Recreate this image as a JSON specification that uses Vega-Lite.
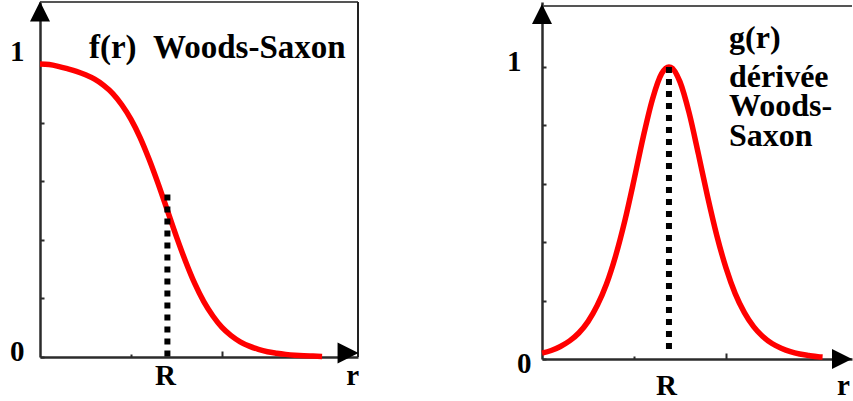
{
  "$schema": "https://vega.github.io/schema/vega-lite/v6.json",
  "background": "white",
  "padding": {"left": 9, "top": 1, "right": 0, "bottom": 0},
  "autosize": {"type": "pad"},
  "bounds": "flush",
  "spacing": 184,
  "config": {
    "view": {"stroke": null},
    "axis": {
      "grid": false,
      "domainColor": "#2b2b2b",
      "domainWidth": 2.5,
      "tickColor": "#2b2b2b",
      "tickWidth": 2,
      "labelFont": "Liberation Serif",
      "labelFontWeight": "bold",
      "labelFontSize": 29,
      "labelColor": "#000000",
      "labelOverlap": false,
      "labelFlush": false,
      "labelBound": false
    },
    "text": {"font": "Liberation Serif", "fontWeight": "bold", "fontSize": 32, "color": "#000000", "align": "left", "baseline": "alphabetic"}
  },
  "datasets": {
    "one": [{}],
    "ws": [
      {"r": 0, "f": 1.0}, {"r": 0.1, "f": 0.998}, {"r": 0.2, "f": 0.992}, {"r": 0.3, "f": 0.984},
      {"r": 0.4, "f": 0.975}, {"r": 0.5, "f": 0.963}, {"r": 0.6, "f": 0.948}, {"r": 0.7, "f": 0.927},
      {"r": 0.8, "f": 0.899}, {"r": 0.9, "f": 0.860}, {"r": 1.0, "f": 0.811}, {"r": 1.1, "f": 0.749},
      {"r": 1.2, "f": 0.674}, {"r": 1.3, "f": 0.590}, {"r": 1.4, "f": 0.500}, {"r": 1.5, "f": 0.410},
      {"r": 1.6, "f": 0.326}, {"r": 1.7, "f": 0.251}, {"r": 1.8, "f": 0.189}, {"r": 1.9, "f": 0.140},
      {"r": 2.0, "f": 0.101}, {"r": 2.1, "f": 0.073}, {"r": 2.2, "f": 0.052}, {"r": 2.3, "f": 0.037},
      {"r": 2.4, "f": 0.026}, {"r": 2.5, "f": 0.018}, {"r": 2.6, "f": 0.013}, {"r": 2.7, "f": 0.009},
      {"r": 2.8, "f": 0.006}, {"r": 2.9, "f": 0.004}, {"r": 3.0, "f": 0.003}, {"r": 3.1, "f": 0.002}
    ],
    "wsd": [
      {"r": 0, "g": 0.020}, {"r": 0.1, "g": 0.029}, {"r": 0.2, "g": 0.043}, {"r": 0.3, "g": 0.062},
      {"r": 0.4, "g": 0.089}, {"r": 0.5, "g": 0.128}, {"r": 0.6, "g": 0.183}, {"r": 0.7, "g": 0.256},
      {"r": 0.8, "g": 0.353}, {"r": 0.9, "g": 0.473}, {"r": 1.0, "g": 0.613}, {"r": 1.1, "g": 0.760},
      {"r": 1.2, "g": 0.889}, {"r": 1.3, "g": 0.977}, {"r": 1.38, "g": 1.0}, {"r": 1.4, "g": 0.999},
      {"r": 1.5, "g": 0.949}, {"r": 1.6, "g": 0.842}, {"r": 1.7, "g": 0.702}, {"r": 1.8, "g": 0.556},
      {"r": 1.9, "g": 0.423}, {"r": 2.0, "g": 0.312}, {"r": 2.1, "g": 0.224}, {"r": 2.2, "g": 0.159},
      {"r": 2.3, "g": 0.111}, {"r": 2.4, "g": 0.077}, {"r": 2.5, "g": 0.053}, {"r": 2.6, "g": 0.037},
      {"r": 2.7, "g": 0.025}, {"r": 2.8, "g": 0.017}, {"r": 2.9, "g": 0.012}, {"r": 3.0, "g": 0.008},
      {"r": 3.05, "g": 0.007}
    ]
  },
  "hconcat": [
    {
      "width": 318,
      "height": 355,
      "layer": [
        {
          "data": {"name": "ws"},
          "mark": {"type": "line", "color": "#ff0000", "strokeWidth": 5.5, "interpolate": "monotone"},
          "encoding": {
            "x": {
              "field": "r", "type": "quantitative",
              "scale": {"domain": [0, 3.4945], "nice": false, "zero": false},
              "axis": {
                "title": null,
                "values": [1, 1.374, 2, 3.43],
                "tickSize": {"condition": [{"test": "datum.value == 1", "value": -3}, {"test": "datum.value == 2", "value": -6}], "value": 0},
                "labelExpr": "datum.value == 1.374 ? 'R' : datum.value == 3.43 ? 'r' : ''",
                "labelBaseline": "alphabetic",
                "labelAlign": "center",
                "labelPadding": 27
              }
            },
            "y": {
              "field": "f", "type": "quantitative",
              "scale": {"domain": [0, 1.2116], "nice": false},
              "axis": {
                "title": null,
                "values": [0, 0.1, 0.2, 0.3, 0.4, 0.5, 0.6, 0.7, 0.8, 0.9, 1, 1.1],
                "tickSize": -4,
                "labelExpr": "datum.value == 0 ? '0' : datum.value == 1 ? '1' : ''",
                "labelBaseline": "middle",
                "labelAlign": "right",
                "labelPadding": 20,
                "labelOffset": {"condition": {"test": "datum.value == 1", "value": -12}, "value": -6}
              }
            }
          }
        },
        {"data": {"name": "one"}, "mark": {"type": "rule", "color": "#555555", "strokeWidth": 2}, "encoding": {"y": {"datum": 1.2116}}},
        {"data": {"name": "one"}, "mark": {"type": "rule", "color": "#222222", "strokeWidth": 2}, "encoding": {"x": {"datum": 3.4945}}},
        {
          "data": {"name": "one"},
          "mark": {"type": "rule", "color": "#000000", "strokeWidth": 6, "strokeDash": [6, 6], "strokeCap": "butt"},
          "encoding": {"x": {"datum": 1.4}, "y": {"datum": 0.555}, "y2": {"datum": 0}}
        },
        {
          "data": {"name": "one"},
          "mark": {"type": "point", "shape": "M0,-1L-1,1L1,1Z", "filled": true, "size": 400, "color": "#000000", "opacity": 1},
          "encoding": {"x": {"datum": 0}, "y": {"datum": 1.179}}
        },
        {
          "data": {"name": "one"},
          "mark": {"type": "point", "shape": "M1,0L-1,-1L-1,1Z", "filled": true, "size": 441, "color": "#000000", "opacity": 1},
          "encoding": {"x": {"datum": 3.385}, "y": {"datum": 0.0137}}
        },
        {
          "data": {"name": "one"},
          "mark": {"type": "text", "text": "f(r)\u00a0\u00a0Woods-Saxon", "fontSize": 33},
          "encoding": {"x": {"datum": 0.538}, "y": {"datum": 1.0205}}
        }
      ]
    },
    {
      "width": 310,
      "height": 357,
      "layer": [
        {
          "data": {"name": "wsd"},
          "mark": {"type": "line", "color": "#ff0000", "strokeWidth": 5.5, "interpolate": "monotone"},
          "encoding": {
            "x": {
              "field": "r", "type": "quantitative",
              "scale": {"domain": [0, 3.3696], "nice": false, "zero": false},
              "axis": {
                "title": null,
                "values": [1, 1.348, 2, 3.27],
                "tickSize": {"condition": [{"test": "datum.value == 1", "value": -3}, {"test": "datum.value == 2", "value": -6}], "value": 0},
                "labelExpr": "datum.value == 1.348 ? 'R' : datum.value == 3.27 ? 'r' : ''",
                "labelBaseline": "alphabetic",
                "labelAlign": "center",
                "labelPadding": 35
              }
            },
            "y": {
              "field": "g", "type": "quantitative",
              "scale": {"domain": [0, 1.2226], "nice": false},
              "axis": {
                "title": null,
                "values": [0, 0.1, 0.2, 0.3, 0.4, 0.5, 0.6, 0.7, 0.8, 0.9, 1, 1.1],
                "tickSize": -4,
                "labelExpr": "datum.value == 0 ? '0' : datum.value == 1 ? '1' : ''",
                "labelBaseline": "middle",
                "labelAlign": "right",
                "labelPadding": {"condition": {"test": "datum.value == 1", "value": 25}, "value": 15},
                "labelOffset": {"condition": {"test": "datum.value == 1", "value": -5}, "value": 4}
              }
            }
          }
        },
        {"data": {"name": "one"}, "mark": {"type": "rule", "color": "#555555", "strokeWidth": 2}, "encoding": {"y": {"datum": 1.2089}}},
        {
          "data": {"name": "one"},
          "mark": {"type": "rule", "color": "#000000", "strokeWidth": 6, "strokeDash": [6, 6], "strokeCap": "butt"},
          "encoding": {"x": {"datum": 1.38}, "y": {"datum": 1.0}, "y2": {"datum": 0.03}}
        },
        {
          "data": {"name": "one"},
          "mark": {"type": "point", "shape": "M0,-1L-1,1L1,1Z", "filled": true, "size": 400, "color": "#000000", "opacity": 1},
          "encoding": {"x": {"datum": 0}, "y": {"datum": 1.1815}}
        },
        {
          "data": {"name": "one"},
          "mark": {"type": "point", "shape": "M1,0L-1,-1L-1,1Z", "filled": true, "size": 400, "color": "#000000", "opacity": 1},
          "encoding": {"x": {"datum": 3.261}, "y": {"datum": 0}}
        },
        {
          "data": {"name": "one"},
          "mark": {"type": "text", "text": "g(r)"},
          "encoding": {"x": {"datum": 2.033}, "y": {"datum": 1.065}}
        },
        {
          "data": {"name": "one"},
          "mark": {"type": "text", "text": "dérivée"},
          "encoding": {"x": {"datum": 2.033}, "y": {"datum": 0.93}}
        },
        {
          "data": {"name": "one"},
          "mark": {"type": "text", "text": "Woods-"},
          "encoding": {"x": {"datum": 2.033}, "y": {"datum": 0.832}}
        },
        {
          "data": {"name": "one"},
          "mark": {"type": "text", "text": "Saxon"},
          "encoding": {"x": {"datum": 2.033}, "y": {"datum": 0.73}}
        }
      ]
    }
  ]
}
